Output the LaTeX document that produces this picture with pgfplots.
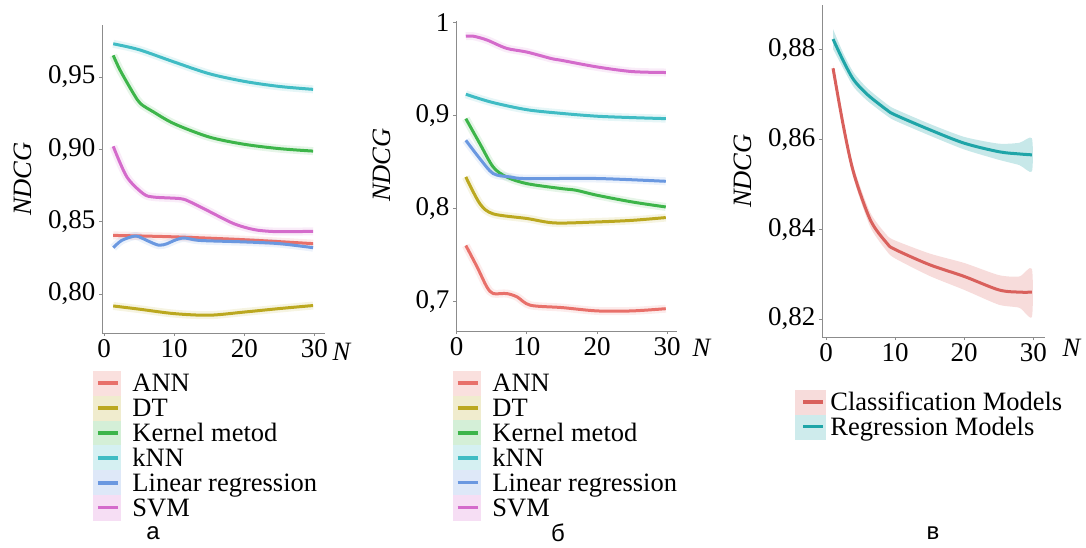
\documentclass[border=0pt]{standalone}
\usepackage{fontspec}
\setmainfont{Liberation Serif}
\newfontfamily\sansf{Liberation Sans}
\usepackage{pgfplots}
\usepackage{pgfplotstable}
\pgfplotsset{compat=1.18}

\definecolor{cANN}{HTML}{E8706A}
\definecolor{cDT}{HTML}{BBA820}
\definecolor{cKer}{HTML}{3DB54A}
\definecolor{cKNN}{HTML}{40BCC4}
\definecolor{cLin}{HTML}{6A98E0}
\definecolor{cSVM}{HTML}{D46BCB}
\definecolor{cCls}{HTML}{D9605C}
\definecolor{cReg}{HTML}{1FA5A8}

\pgfplotstableread{
x mean
1 0.8824
2.5 0.8775
4 0.8733
6 0.8700
8.8 0.8666
10 0.8655
15 0.8622
20 0.8592
25 0.8573
28 0.8568
29.8 0.8566
}\regtab
\pgfplotstableread{
x mean
1 0.8759
2.5 0.8630
4 0.8525
6.4 0.8421
8.8 0.8369
10 0.8355
15 0.8321
20 0.8295
25 0.8265
28 0.8260
29.8 0.8260
}\clstab

\pgfplotsset{
  panel/.style={
    scale only axis,
    axis x line*=bottom, axis y line*=left,
    axis line style={black!45, line width=0.9pt},
    tick style={black!45, line width=0.8pt},
    major tick length=3pt, tick align=outside,
    xtick={0,10,20,30},
    xticklabel={\rmfamily\pgfmathprintnumber[assume math mode=true]{\tick}},
    ticklabel style={font=\rmfamily\fontsize{27}{30}\selectfont},
    label style={font=\rmfamily\fontsize{26.5}{30}\selectfont},
    ylabel={\textit{NDCG}},
    xlabel={\textit{N}},
    legend cell align=left,
  },
  bandleg/.style={legend image code/.code={%
      \fill[#1!22] (0pt,-12.25pt) rectangle (27pt,12.25pt);
      \draw[#1, line width=3.5pt] (4.5pt,0pt) -- (24.5pt,0pt);
      \path (39pt,0pt);}},
  bandlegc/.style={legend image code/.code={%
      \fill[#1!22] (0pt,-12pt) rectangle (30pt,12pt);
      \draw[#1, line width=3.5pt] (8pt,0pt) -- (28pt,0pt);
      \path (35pt,0pt);}},
  legsty/.style={legend style={draw=none, fill=none, inner sep=0pt, outer sep=0pt,
      row sep=0pt, column sep=0pt,
      nodes={inner sep=0pt, outer sep=0pt, text height=20.75pt, text depth=3.75pt, anchor=west},
      font=\rmfamily\fontsize{26.5}{26.5}\selectfont}},
  halo/.style={#1, line width=8pt, opacity=0.13, smooth, tension=0.5, forget plot},
  main/.style={#1, line width=3pt, smooth, tension=0.5, forget plot},
}

\begin{document}
\begin{tikzpicture}
\path[use as bounding box] (0pt,0pt) rectangle (1086pt,547pt);

% ---------------- panel a ----------------
\begin{axis}[panel, at={(102pt,214pt)}, anchor=south west,
  width=223pt, height=308pt,
  xmin=-0.3, xmax=31.5, ymin=0.773, ymax=0.986,
  ytick={0.80,0.85,0.90,0.95},
  yticklabel={\rmfamily\pgfmathprintnumber[fixed, fixed zerofill, precision=2, use comma, assume math mode=true]{\tick}},
  ylabel style={at={(axis description cs:-0.354,0.5)}, anchor=center},
  xlabel style={at={(axis description cs:1,0)}, anchor=center, xshift=17pt, yshift=-19pt},
  legsty,
  legend style={at={(axis description cs:-0.040,-0.1226)}, anchor=north west},
]
\addlegendimage{bandleg=cANN}\addlegendentry{ANN}
\addlegendimage{bandleg=cDT}\addlegendentry{DT}
\addlegendimage{bandleg=cKer}\addlegendentry{Kernel metod}
\addlegendimage{bandleg=cKNN}\addlegendentry{kNN}
\addlegendimage{bandleg=cLin}\addlegendentry{Linear regression}
\addlegendimage{bandleg=cSVM}\addlegendentry{SVM}

\pgfplotsinvokeforeach{halo,main}{
\addplot[#1=cKNN] coordinates {(1.3,0.973) (5,0.9689) (10,0.9604) (15,0.9523) (20,0.947) (25,0.9435) (29.8,0.9415)};
\addplot[#1=cKer] coordinates {(1.3,0.965) (2.3,0.9546) (4.2,0.9385) (5.2,0.9316) (7,0.926) (10,0.9177) (15,0.9085) (20,0.9035) (25,0.9005) (29.8,0.8988)};
\addplot[#1=cSVM] coordinates {(1.3,0.9021) (3.25,0.8809) (5.6,0.8693) (7.1,0.867) (10.9,0.8659) (12.3,0.8636) (14.7,0.8578) (18.5,0.8486) (21.4,0.8445) (24,0.8432) (26.5,0.8431) (29.8,0.8433)};
\addplot[#1=cANN] coordinates {(1.3,0.8405) (10,0.8395) (20,0.8375) (29.8,0.8348)};
\addplot[#1=cLin] coordinates {(1.3,0.832) (2.5,0.837) (4.2,0.8399) (5,0.8395) (6.1,0.837) (7.8,0.8337) (9,0.8348) (10,0.837) (11.4,0.8387) (13.7,0.837) (20,0.836) (25,0.8348) (29.8,0.832)};
\addplot[#1=cDT] coordinates {(1.3,0.7917) (5,0.7895) (10,0.7864) (15,0.7853) (20,0.7875) (25,0.7899) (29.8,0.792)};
}
\end{axis}

% ---------------- panel b ----------------
\begin{axis}[panel, at={(456pt,216pt)}, anchor=south west,
  width=221pt, height=310pt,
  xmin=-0.1, xmax=31.4, ymin=0.668, ymax=1.0014,
  ytick={0.7,0.8,0.9,1},
  yticklabel={\rmfamily\pgfmathprintnumber[fixed, precision=1, use comma, assume math mode=true]{\tick}},
  ylabel style={at={(axis description cs:-0.335,0.535)}, anchor=center},
  xlabel style={at={(axis description cs:1,0)}, anchor=center, xshift=25pt, yshift=-17pt},
  legsty,
  legend style={at={(axis description cs:-0.0136,-0.128)}, anchor=north west},
]
\addlegendimage{bandleg=cANN}\addlegendentry{ANN}
\addlegendimage{bandleg=cDT}\addlegendentry{DT}
\addlegendimage{bandleg=cKer}\addlegendentry{Kernel metod}
\addlegendimage{bandleg=cKNN}\addlegendentry{kNN}
\addlegendimage{bandleg=cLin}\addlegendentry{Linear regression}
\addlegendimage{bandleg=cSVM}\addlegendentry{SVM}

\pgfplotsinvokeforeach{halo,main}{
\addplot[#1=cSVM] coordinates {(1.3,0.985) (2.4,0.985) (4.3,0.981) (7.1,0.972) (10,0.968) (13.5,0.961) (15,0.959) (20,0.952) (25,0.947) (29.8,0.946)};
\addplot[#1=cKNN] coordinates {(1.3,0.9226) (5,0.914) (10,0.906) (15,0.902) (20,0.899) (25,0.8975) (29.8,0.8964)};
\addplot[#1=cKer] coordinates {(1.3,0.8964) (3.3,0.8695) (5.2,0.8444) (7.1,0.8337) (10,0.8265) (15,0.8211) (17,0.8194) (20,0.814) (25,0.8068) (29.8,0.8014)};
\addplot[#1=cLin] coordinates {(1.3,0.8731) (3.3,0.8534) (5.2,0.8373) (7.6,0.8337) (10,0.8319) (20,0.832) (29.8,0.829)};
\addplot[#1=cDT] coordinates {(1.3,0.8337) (3.3,0.805) (5.2,0.794) (10,0.789) (14,0.7842) (20,0.7853) (25,0.787) (29.8,0.79)};
\addplot[#1=cANN] coordinates {(1.3,0.760) (2.9,0.737) (4.3,0.7154) (5.2,0.7083) (7.1,0.7083) (8.6,0.7047) (10.5,0.6957) (15,0.6932) (20,0.6896) (25,0.6896) (29.8,0.692)};
}
\end{axis}

% ---------------- panel c ----------------
\begin{axis}[panel, at={(822pt,210pt)}, anchor=south west,
  width=223pt, height=332pt,
  xmin=-0.6, xmax=31.7, ymin=0.816, ymax=0.890,
  ytick={0.82,0.84,0.86,0.88},
  yticklabel={\rmfamily\pgfmathprintnumber[fixed, fixed zerofill, precision=2, use comma, assume math mode=true]{\tick}},
  ylabel style={at={(axis description cs:-0.354,0.5)}, anchor=center},
  xlabel style={at={(axis description cs:1,0)}, anchor=center, xshift=27pt, yshift=-11pt},
  legsty,
  legend style={at={(axis description cs:-0.121,-0.1596)}, anchor=north west},
]
\addlegendimage{bandlegc=cCls}\addlegendentry{Classification Models}
\addlegendimage{bandlegc=cReg}\addlegendentry{Regression Models}

\addplot[fill=cReg!25, draw=none, smooth, tension=0.4, forget plot] coordinates {
 (1,0.8846)(2.5,0.8792)(4,0.8749)(6,0.8714)(8.8,0.8679)(10,0.8668)(15,0.8635)(20,0.8606)(25,0.8591)(28,0.8593)(29.8,0.8603)
 (29.8,0.8529)(28,0.8543)(25,0.8555)(20,0.8578)(15,0.8609)(10,0.8642)(8.8,0.8653)(6,0.8686)(4,0.8717)(2.5,0.8758)(1,0.8802)} -- cycle;
\addplot[fill=cCls!22, draw=none, smooth, tension=0.4, forget plot] coordinates {
 (1,0.8766)(2.5,0.8640)(4,0.8538)(6.4,0.8437)(8.8,0.8387)(10,0.8375)(15,0.8346)(20,0.8325)(25,0.8298)(28,0.8295)(29.8,0.8312)
 (29.8,0.8205)(28,0.8225)(25,0.8232)(20,0.8265)(15,0.8296)(10,0.8335)(8.8,0.8351)(6.4,0.8405)(4,0.8512)(2.5,0.8620)(1,0.8752)} -- cycle;
\addplot[main=cReg] table[x=x, y=mean] {\regtab};
\addplot[main=cCls] table[x=x, y=mean] {\clstab};
\end{axis}

\node[font=\sansf\fontsize{24}{24}\selectfont] at (153pt,14pt) {а};
\node[font=\sansf\fontsize{24}{24}\selectfont] at (558pt,14pt) {б};
\node[font=\sansf\fontsize{24}{24}\selectfont] at (933pt,14pt) {в};
\end{tikzpicture}
\end{document}
